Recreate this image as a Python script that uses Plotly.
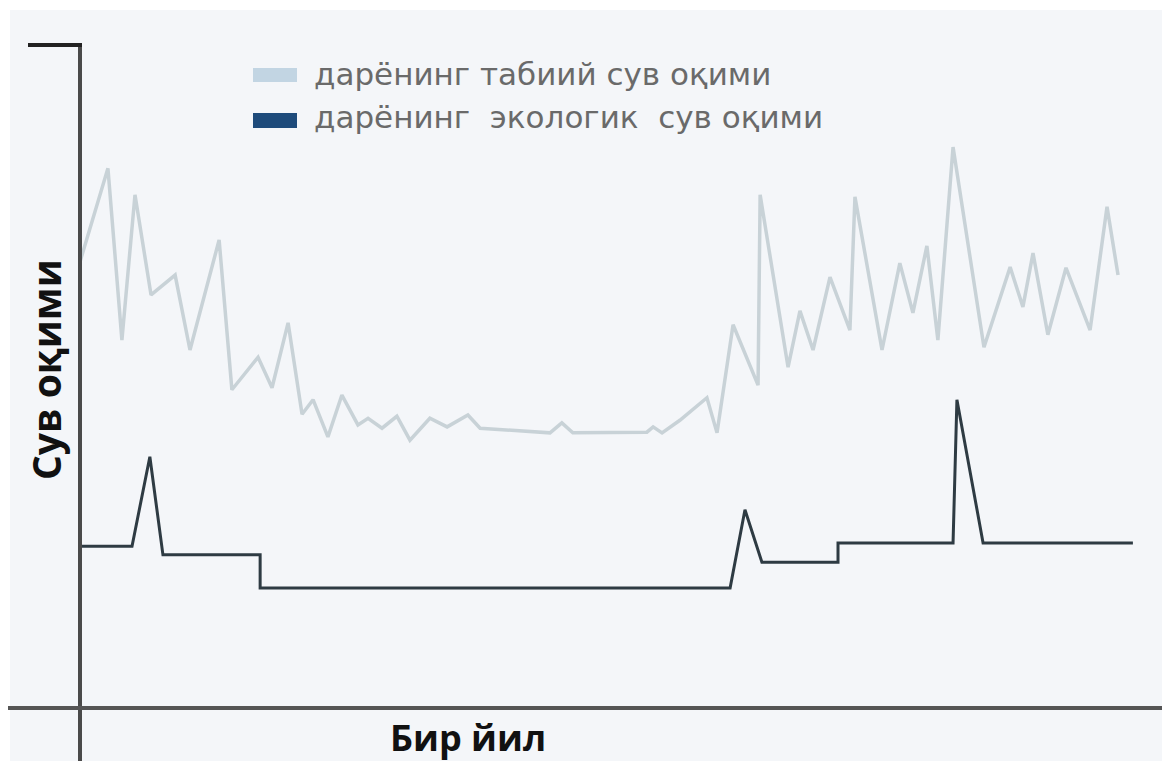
import plotly.graph_objects as go

# ---- data (day of year, relative flow) ----
natural_day = [0, 9.4, 14.1, 18.5, 23.9, 32.0, 37.0, 46.8, 51.1, 59.9, 64.6, 70.0, 74.7, 78.4,
               83.4, 88.1, 93.5, 96.9, 101.6, 106.6, 111.0, 117.7, 123.5, 130.5, 134.6, 154.7,
               158.1, 162.1, 165.8, 190.7, 192.8, 195.8, 201.8, 210.9, 214.3, 219.7, 228.1,
               228.8, 238.2, 242.2, 246.6, 252.3, 259.0, 260.7, 269.8, 275.8, 280.2, 284.9,
               288.6, 293.7, 304.1, 312.9, 317.2, 320.6, 325.6, 331.7, 339.8, 345.5, 349.2]
natural_flow = [67.3, 81.4, 55.5, 77.4, 62.3, 65.3, 54.0, 70.6, 48.0, 52.9, 48.3, 58.1, 44.3, 46.5,
                40.9, 47.2, 42.7, 43.7, 42.2, 44.0, 40.4, 43.7, 42.4, 44.2, 42.2, 41.6,
                41.5, 43.0, 41.5, 41.6, 42.4, 41.5, 43.4, 46.8, 41.5, 57.8, 48.7,
                77.4, 51.4, 59.9, 54.0, 65.0, 57.0, 77.1, 54.0, 67.1, 59.6, 69.7,
                55.5, 84.6, 54.4, 66.5, 60.5, 68.6, 56.3, 66.4, 57.0, 75.6, 65.3]

eco_day = [0, 17.5, 23.5, 27.9, 60.6, 60.6, 218.7, 223.7, 229.4, 255.0, 255.0, 293.7, 295.0, 303.8, 354.2]
eco_flow = [24.4, 24.4, 37.9, 23.1, 23.1, 18.1, 18.1, 29.9, 22.0, 22.0, 24.9, 24.9, 46.5, 24.9, 24.9]

legend_labels = ["дарёнинг табиий сув оқими", "дарёнинг  экологик  сув оқими"]
x_title = "Бир йил"
y_title = "Сув оқими"

# page offset caused by the default body margin of the html page
OFF = 8
W, H = 1170 - OFF, 761 - OFF
ML, MR, MT, MB = 80 - OFF, 5, 45 - OFF, 53
PW, PH = W - ML - MR, H - MT - MB


def px(x):
    """page pixel x -> paper coordinate"""
    return (x - OFF - ML) / PW


def py(y):
    """page pixel y -> paper coordinate"""
    return (OFF + MT + PH - y) / PH


fig = go.Figure()
fig.add_trace(go.Scatter(x=natural_day, y=natural_flow, mode="lines",
                         line=dict(color="#c8d2d7", width=3.5), showlegend=False,
                         name=legend_labels[0]))
fig.add_trace(go.Scatter(x=eco_day, y=eco_flow, mode="lines",
                         line=dict(color="#2e3b43", width=3), showlegend=False,
                         name=legend_labels[1]))

shapes = [
    # background panel
    dict(type="rect", xref="paper", yref="paper", x0=px(10), x1=px(1175), y0=py(770), y1=py(10),
         fillcolor="#f4f6f9", line=dict(width=0), layer="below"),
    # y axis
    dict(type="line", xref="paper", yref="paper", x0=px(80), x1=px(80), y0=py(770), y1=py(45),
         line=dict(color="#4a4a4a", width=4)),
    # top stub
    dict(type="line", xref="paper", yref="paper", x0=px(28), x1=px(82), y0=py(45), y1=py(45),
         line=dict(color="#222222", width=4)),
    # x axis
    dict(type="line", xref="paper", yref="paper", x0=px(8), x1=px(1166), y0=py(708), y1=py(708),
         line=dict(color="#555555", width=4)),
    # right tick
    dict(type="line", xref="paper", yref="paper", x0=px(1165), x1=px(1165), y0=py(770), y1=py(708),
         line=dict(color="#444444", width=2)),
    # legend swatches
    dict(type="rect", xref="paper", yref="paper", x0=px(253), x1=px(297), y0=py(82), y1=py(68),
         fillcolor="#c2d5e3", line=dict(width=0)),
    dict(type="rect", xref="paper", yref="paper", x0=px(253), x1=px(297), y0=py(128), y1=py(113),
         fillcolor="#1e4b7b", line=dict(width=0)),
]

annotations = [
    dict(text=legend_labels[0], xref="paper", yref="paper", x=px(312), y=py(74),
         xanchor="left", yanchor="middle", showarrow=False,
         font=dict(family="DejaVu Sans", size=31, color="#6a6a6a")),
    dict(text=legend_labels[1], xref="paper", yref="paper", x=px(312), y=py(117),
         xanchor="left", yanchor="middle", showarrow=False,
         font=dict(family="DejaVu Sans", size=31, color="#6a6a6a")),
    dict(text="<b>" + x_title + "</b>", xref="paper", yref="paper", x=px(468), y=py(737),
         xanchor="center", yanchor="middle", showarrow=False,
         font=dict(family="Open Sans", size=36, color="#111111")),
    dict(text="<b>" + y_title + "</b>", xref="paper", yref="paper", x=px(45), y=py(370),
         xanchor="center", yanchor="middle", showarrow=False, textangle=-90,
         font=dict(family="Open Sans", size=39, color="#111111")),
]

fig.update_layout(
    width=W, height=H,
    margin=dict(l=ML, r=MR, t=MT, b=MB),
    paper_bgcolor="white", plot_bgcolor="rgba(0,0,0,0)",
    xaxis=dict(range=[0, 365], visible=False, fixedrange=True),
    yaxis=dict(range=[0, 100], visible=False, fixedrange=True),
    shapes=shapes, annotations=annotations, showlegend=False,
)

fig.write_html("out.html")
